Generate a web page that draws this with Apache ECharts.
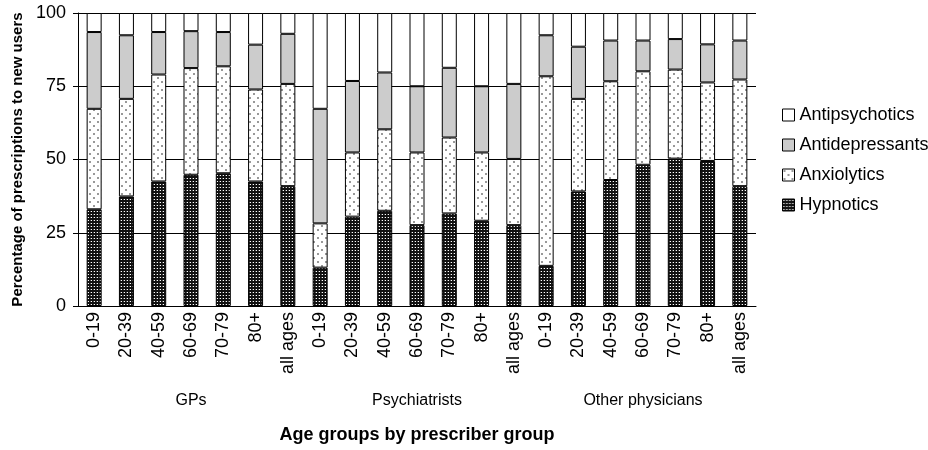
<!DOCTYPE html>
<html>
<head>
<meta charset="utf-8">
<script src="https://cdn.jsdelivr.net/npm/echarts@6/dist/echarts.min.js"></script>
<style>
  html, body { margin: 0; padding: 0; background: #fff; }
  #chart { width: 928px; height: 450px; }
</style>
</head>
<body>
<div id="chart"></div>
<script>
var ageGroups = ['0-19', '20-39', '40-59', '60-69', '70-79', '80+', 'all ages']
var prescriberGroups = ['GPs', 'Psychiatrists', 'Other physicians']
var yTicks = [0, 25, 50, 75, 100]

// percentages per bar, GPs / Psychiatrists / Other physicians in age order
var hypnotics = [33.0, 37.4, 42.5, 44.8, 45.3, 42.5, 40.9, 13.1, 30.5, 32.5, 27.6, 31.6, 29.1, 27.6, 13.7, 39.1, 43.0, 48.2, 50.3, 49.5, 40.9]
var anxiolytics = [34.3, 33.3, 36.5, 36.4, 36.5, 31.4, 34.9, 15.1, 21.9, 27.8, 24.8, 25.9, 23.3, 22.6, 64.7, 31.6, 33.7, 31.9, 30.4, 26.8, 36.4]
var antidepressants = [26.2, 21.7, 14.5, 12.6, 11.7, 15.3, 17.1, 39.1, 24.4, 19.4, 22.6, 23.8, 22.6, 25.6, 14.0, 17.8, 13.9, 10.5, 10.4, 13.0, 13.3]
var antipsychotics = [6.5, 7.6, 6.5, 6.2, 6.5, 10.8, 7.1, 32.7, 23.2, 20.3, 25.0, 18.7, 25.0, 24.2, 7.6, 11.5, 9.4, 9.4, 8.9, 10.7, 9.4]

var categories = []
prescriberGroups.forEach(function () {
  ageGroups.forEach(function (a) { categories.push(a) })
})

function makePattern (size, bg, dots) {
  var c = document.createElement('canvas')
  c.width = size
  c.height = size
  var ctx = c.getContext('2d')
  ctx.fillStyle = bg
  ctx.fillRect(0, 0, size, size)
  dots.forEach(function (d) {
    ctx.fillStyle = d[3]
    ctx.fillRect(d[0], d[1], d[2], d[2])
  })
  return { image: c, repeat: 'repeat' }
}

var hypPattern = makePattern(3, '#111', [[1, 1, 1, '#fff'], [0, 1, 1, '#555']])
var anxPattern = makePattern(8, '#fff', [[1, 1, 2, '#999'], [5, 5, 2, '#999']])

var font = "'Liberation Sans', Arial, sans-serif"

function barSeries (name, data, color) {
  return {
    name: name,
    type: 'bar',
    stack: 'all',
    barWidth: 15,
    data: data,
    itemStyle: { color: color, borderColor: '#000', borderWidth: 1 },
    emphasis: { disabled: true }
  }
}

var chart = echarts.init(document.getElementById('chart'))
var option = {
  animation: false,
  textStyle: { fontFamily: font, color: '#000' },
  grid: { left: 78, right: 172, top: 13, bottom: 144 },
  legend: {
    orient: 'vertical',
    left: 777,
    top: 101,
    icon: 'rect',
    itemWidth: 12,
    itemHeight: 12,
    itemGap: 12,
    data: ['Antipsychotics', 'Antidepressants', 'Anxiolytics', 'Hypnotics'],
    textStyle: { fontSize: 18, fontFamily: font, color: '#000' },
    itemStyle: { borderColor: '#000', borderWidth: 1 }
  },
  xAxis: [{
    type: 'category',
    data: categories,
    axisLine: { lineStyle: { color: '#000', width: 1 } },
    axisTick: { interval: 0, length: 69, lineStyle: { color: '#000' } },
    axisLabel: { interval: 0, rotate: 90, margin: 6, fontSize: 18, color: '#000', fontFamily: font }
  }, {
    type: 'category',
    data: prescriberGroups,
    position: 'bottom',
    axisLine: { show: false },
    axisTick: { length: 109, lineStyle: { color: '#000' } },
    axisLabel: { margin: 87, fontSize: 16, color: '#000', fontFamily: font },
    name: 'Age groups by prescriber group',
    nameLocation: 'middle',
    nameGap: 120,
    nameTextStyle: { fontSize: 18, fontWeight: 'bold', color: '#000', fontFamily: font }
  }],
  yAxis: {
    type: 'value',
    min: yTicks[0],
    max: yTicks[yTicks.length - 1],
    interval: 25,
    name: 'Percentage of prescriptions to new users',
    nameLocation: 'middle',
    nameGap: 52,
    nameTextStyle: { fontSize: 15, fontWeight: 'bold', color: '#000', fontFamily: font },
    axisLine: { show: true, lineStyle: { color: '#000' } },
    axisTick: { show: true, length: 5, lineStyle: { color: '#000' } },
    axisLabel: { margin: 12, fontSize: 18, color: '#000', fontFamily: font },
    splitLine: { lineStyle: { color: '#000', width: 1 } }
  },
  series: [
    barSeries('Hypnotics', hypnotics, hypPattern),
    barSeries('Anxiolytics', anxiolytics, anxPattern),
    barSeries('Antidepressants', antidepressants, '#cccccc'),
    barSeries('Antipsychotics', antipsychotics, '#ffffff')
  ]
}
chart.setOption(option)
</script>
</body>
</html>
